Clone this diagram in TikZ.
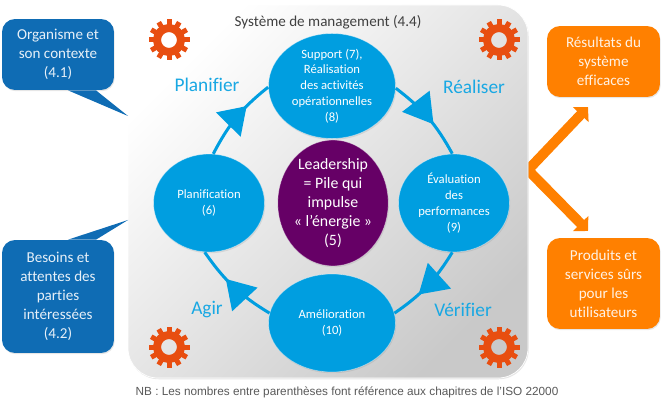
\documentclass[tikz,border=0pt]{standalone}
\usepackage{fontspec}
\setmainfont[Ligatures=CommonOff]{Carlito}
\newfontfamily\nbfont{Liberation Sans}
\usetikzlibrary{arrows.meta,decorations.markings,shadows,shapes.geometric}

\definecolor{cyclecol}{HTML}{009EE0}
\definecolor{leadcol}{HTML}{660066}
\definecolor{inputcol}{HTML}{0F6CB4}
\definecolor{outputcol}{HTML}{FF8000}
\definecolor{gearcol}{HTML}{E84E10}

\tikzset{
  softshadow/.style={drop shadow={shadow xshift=.015cm, shadow yshift=-.025cm, opacity=.2}},
  phase/.style={ellipse, fill=cyclecol, draw=white, draw opacity=.4, text=white, align=center, inner sep=0pt, font=\fontsize{7.2}{9}\selectfont, softshadow},
  inputbox/.style={rectangle, rounded corners=.26cm, fill=inputcol, text=white!90!inputcol, align=center, minimum width=2.24cm, font=\fontsize{8.6}{10.8}\selectfont, softshadow},
  outputbox/.style={rectangle, rounded corners=.26cm, fill=outputcol, text=white!90!outputcol, align=center, minimum width=2.26cm, font=\fontsize{8.6}{10.8}\selectfont, softshadow},
  steplabel/.style={text=cyclecol!90!white, font=\fontsize{11}{13}\selectfont},
  midhead/.style 2 args={postaction={decorate}, decoration={markings, mark=at position #1 with {\arrow{Triangle[length=#2*.02cm, width=.68cm]}}}},
  cycleline/.style={line width=.06cm, draw=cyclecol},
  resultline/.style={line width=.2cm, draw=outputcol, line join=miter}
}

\newcommand{\gearat}[2]{
  \draw [gearcol, line width=.16cm] (#1,#2) circle (.24cm);
  \foreach \a in {0,30,...,330}
    \draw [gearcol, line width=.1cm] (#1,#2) ++(\a:13) -- ++(\a:7.5);
}

\begin{document}
\begin{tikzpicture}[x=.02cm, y=-.02cm]
\useasboundingbox (0,0) rectangle (666,405);

% arrows out of the panel
\coordinate (tipa) at (588,107);
\coordinate (tipb) at (588,231);
\coordinate (vee) at (528,170);
\draw [resultline, {Triangle[length=.21cm, width=.42cm]}-{Triangle[length=.21cm, width=.42cm]}] (tipa) -- (vee) -- (tipb);

% panel
\path [rounded corners=.6cm, top color=white, bottom color=black!21, shading angle=45, draw=white, softshadow] (128,5) rectangle (528,378);

\foreach \gx in {169,499} {
  \foreach \gy in {40,347} {
    \gearat{\gx}{\gy}
  }
}

\node (title) [text=black!75, font=\fontsize{8.6}{10}\selectfont] at (328,22) {Système de management (4.4)};

\node (support) [phase, minimum width=2.54cm, minimum height=1.94cm] at (332,86) {Support (7),\\Réalisation\\des activités\\opérationnelles\\(8)};
\node (planif) [phase, minimum width=2.22cm, minimum height=1.96cm] at (209,203) {Planification\\(6)};
\node (evalu) [phase, minimum width=2.22cm, minimum height=1.96cm] at (454,203) {Évaluation\\des\\performances\\(9)};
\node (amelio) [phase, minimum width=2.54cm, minimum height=1.96cm] at (332,323) {Amélioration\\(10)};
\node (lead) [phase, fill=leadcol, minimum width=2.2cm, minimum height=2.22cm, font=\fontsize{9}{10.8}\selectfont] at (333,203) {Leadership\\= Pile qui\\impulse\\« l’énergie »\\(5)};

\draw [cycleline, midhead={.67}{26}] (planif.85) to [bend left=12] (support.181);
\draw [cycleline, midhead={.6}{29}] (support.-2) to [bend left=12] (evalu.92);
\draw [cycleline, midhead={.64}{28}] (evalu.-92) to [bend left=12] (amelio.9);
\draw [cycleline, midhead={.62}{28}] (amelio.171) to [bend left=12] (planif.-95);

\node (planifier) [steplabel] at (207,85) {Planifier};
\node (realiser) [steplabel] at (474,87) {Réaliser};
\node (agir) [steplabel] at (207,310) {Agir};
\node (verifier) [steplabel] at (463,310) {Vérifier};

% inputs
\node (organisme) [inputbox, minimum height=1.42cm] at (58,54.5) {Organisme et\\son contexte\\(4.1)};
\node (besoins) [inputbox, minimum height=2.26cm] at (58,296.5) {Besoins et\\attentes des\\parties\\intéressées\\(4.2)};
\coordinate (orgtip) at (128,116);
\coordinate (bestip) at (128,220);
\fill [inputcol] ([xshift=.2cm]organisme.south) -- (orgtip) -- ([xshift=.76cm]organisme.south) -- cycle;
\fill [inputcol] ([xshift=.2cm]besoins.north) -- (bestip) -- ([xshift=.76cm]besoins.north) -- cycle;

% outputs
\node (resultats) [outputbox, minimum height=1.42cm] at (603.5,61.5) {Résultats du\\système\\efficaces};
\node (produits) [outputbox, minimum height=1.82cm] at (603.5,283.5) {Produits et\\services sûrs\\pour les\\utilisateurs};

\node (nb) [text=black!65, font=\nbfont\fontsize{6.7}{8}\selectfont] at (347,392) {NB : Les nombres entre parenthèses font référence aux chapitres de l’ISO 22000};
\end{tikzpicture}
\end{document}
